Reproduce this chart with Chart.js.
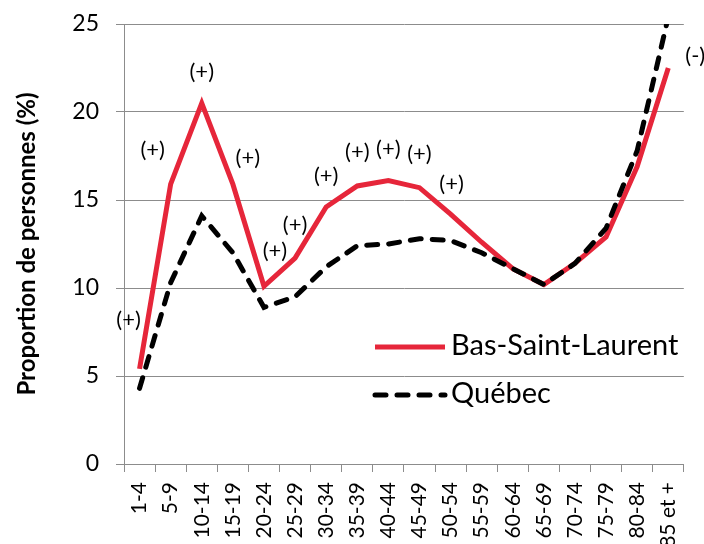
<!DOCTYPE html>
<html>
<head>
<meta charset="utf-8">
<script src="https://cdn.jsdelivr.net/npm/chart.js@4/dist/chart.umd.min.js"></script>
<style>
  html, body { margin: 0; padding: 0; background: #fff; }
  #wrap { width: 704px; height: 544px; }
</style>
</head>
<body>
<div id="wrap"><canvas id="chart" width="704" height="544"></canvas></div>
<script>
// Groupes d'âge (axe des x)
const ageGroups = ['1-4', '5-9', '10-14', '15-19', '20-24', '25-29', '30-34', '35-39', '40-44',
    '45-49', '50-54', '55-59', '60-64', '65-69', '70-74', '75-79', '80-84', '85 et +'];

// Proportion de personnes (%)
const basSaintLaurent = [5.4, 15.9, 20.5, 15.9, 10.1, 11.7, 14.6, 15.8, 16.1, 15.7, 14.2, 12.6, 11.1, 10.2, 11.4, 12.9, 16.9, 22.5];
const quebec = [4.3, 10.3, 14.1, 12.0, 8.9, 9.5, 11.2, 12.4, 12.5, 12.8, 12.7, 12.0, 11.1, 10.2, 11.4, 13.4, 17.8, 25.4];

// Écart significatif par rapport au Québec
const significance = ['(+)', '(+)', '(+)', '(+)', '(+)', '(+)', '(+)', '(+)', '(+)', '(+)', '(+)',
    '', '', '', '', '', '', '(-)'];

const yTicks = [0, 5, 10, 15, 20, 25];

const FONT = 'Lato, "Open Sans", sans-serif';
const RED = 'rgb(230, 38, 58)';
const GRID = '#8c8c8c';

// décalage (px) de chaque étiquette par rapport à son point
const labelOffsets = [[-11, -49], [-18, -34], [0, -31], [15, -26], [11, -35], [0, -33], [0, -31],
    [0, -34], [0, -32], [0, -34], [1, -30], [0, 0], [0, 0], [0, 0], [0, 0], [0, 0], [0, 0], [27, -12]];

const annotations = {
    id: 'annotations',
    afterDatasetsDraw(chart) {
        const ctx = chart.ctx;
        const meta = chart.getDatasetMeta(0);
        ctx.save();
        ctx.font = '22px ' + FONT;
        ctx.fillStyle = '#000';
        ctx.textAlign = 'center';
        ctx.textBaseline = 'middle';
        significance.forEach((txt, i) => {
            if (!txt) return;
            const pt = meta.data[i];
            ctx.fillText(txt, pt.x + labelOffsets[i][0], pt.y + labelOffsets[i][1]);
        });
        ctx.restore();
    }
};

// légende dessinée dans la zone du graphique
const insideLegend = {
    id: 'insideLegend',
    afterDraw(chart) {
        const ctx = chart.ctx;
        const area = chart.chartArea;
        const x0 = area.left + 251;
        const rows = [area.top + 323, area.top + 371];
        ctx.save();
        chart.data.datasets.forEach((ds, i) => {
            const y = rows[i];
            ctx.beginPath();
            ctx.strokeStyle = ds.borderColor;
            ctx.lineWidth = ds.borderWidth;
            ctx.lineCap = ds.borderCapStyle || 'butt';
            ctx.setLineDash(ds.borderDash || []);
            ctx.moveTo(x0, y);
            ctx.lineTo(x0 + 70, y);
            ctx.stroke();
            ctx.setLineDash([]);
            ctx.fillStyle = '#000';
            ctx.font = '29px ' + FONT;
            ctx.textAlign = 'left';
            ctx.textBaseline = 'middle';
            ctx.fillText(ds.label, x0 + 76, y - 1);
        });
        ctx.restore();
    }
};

new Chart(document.getElementById('chart').getContext('2d'), {
    type: 'line',
    data: {
        labels: ageGroups,
        datasets: [{
            label: 'Bas-Saint-Laurent',
            data: basSaintLaurent,
            borderColor: RED,
            borderWidth: 5,
            borderCapStyle: 'butt',
            pointRadius: 0,
            tension: 0,
            order: 1
        }, {
            label: 'Québec',
            data: quebec,
            borderColor: '#000',
            borderWidth: 5,
            borderDash: [11, 11],
            borderCapStyle: 'round',
            pointRadius: 0,
            tension: 0,
            order: 0
        }]
    },
    options: {
        responsive: false,
        animation: false,
        layout: { padding: { top: 24, right: 19, left: 13 } },
        plugins: {
            legend: { display: false },
            tooltip: { enabled: false }
        },
        scales: {
            x: {
                offset: true,
                grid: { display: true, drawOnChartArea: false, drawTicks: true, tickLength: 8, color: GRID, offset: true },
                border: { display: true, color: GRID, width: 1 },
                ticks: {
                    color: '#000', font: { family: FONT, size: 21 },
                    maxRotation: 90, minRotation: 90, autoSkip: false, padding: 10
                },
                afterFit(scale) { scale.height = 80; }
            },
            y: {
                min: 0, max: 25,
                afterBuildTicks(scale) { scale.ticks = yTicks.map(v => ({ value: v })); },
                grid: { color: GRID, tickLength: 8, drawTicks: true },
                border: { display: true, color: GRID, width: 1 },
                ticks: { color: '#000', font: { family: FONT, size: 23 }, padding: 17 },
                title: {
                    display: true,
                    text: 'Proportion de personnes (%)',
                    color: '#000',
                    font: { family: FONT, size: 24, weight: 'bold' },
                    padding: 0
                },
                afterFit(scale) {
                    scale.width = 111;
                    scale.paddingTop = 0;
                    scale.paddingBottom = 0;
                }
            }
        }
    },
    plugins: [annotations, insideLegend]
});
</script>
</body>
</html>
